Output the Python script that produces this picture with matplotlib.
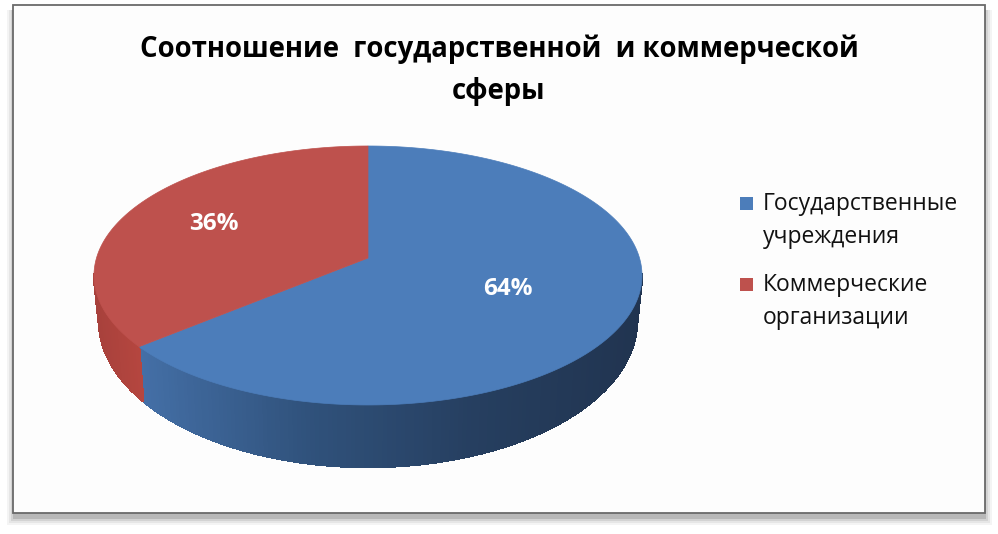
"""Share of state and commercial sector, tilted 3d pie"""

import numpy as np
import matplotlib
matplotlib.use("Agg")
import matplotlib.pyplot as plt
from matplotlib.collections import PolyCollection
from matplotlib.colors import LinearSegmentedColormap
from matplotlib.patches import Rectangle

TITLE = "Соотношение  государственной  и коммерческой\nсферы"
categories = ["Государственные\nучреждения", "Коммерческие\nорганизации"]
shares = [64, 36]

TOP_COLORS = ["#4c7dba", "#be514d"]
WALL_CMAPS = [
    LinearSegmentedColormap.from_list("blue", ["#446fa6", "#30527c", "#263f60", "#213450"]),
    LinearSegmentedColormap.from_list("red", ["#a8413c", "#b5463f"]),
]
LABEL_RADIUS = [0.55, 0.65]

plt.rcParams["font.family"] = ["Open Sans", "DejaVu Sans"]


def project(theta, radius=1.0):
    """Disc point (clockwise angle from the back) to pixel position, with perspective"""
    u = radius * np.sin(theta)
    v = radius * np.cos(theta)
    den = 1 + 0.135 * v
    return 368 + 271.5 * u / den, (258 - 92.3 * v) / den


def lower_rim(x, y):
    """Matching point on the bottom edge of the disc"""
    return 368 + (x - 368) * 0.982, 258 + (y - 258) * 1.13 + 43


def wall(ax, start, end, cmap):
    """Outer side of a slice, one small quad per step so it can carry a gradient"""
    # only the front part of the rim is visible
    start, end = max(start, np.radians(97)), min(end, np.radians(263))
    if end <= start:
        return
    angles = np.linspace(start, end, 160)
    x, y = project(angles)
    xb, yb = lower_rim(x, y)
    quads = []
    for i in range(len(angles) - 1):
        quads.append([(x[i], y[i]), (x[i + 1], y[i + 1]), (xb[i + 1], yb[i + 1]), (xb[i], yb[i])])
    pos = (x[:-1] - x.min()) / max(x.max() - x.min(), 1)
    # left side is lit, right side is in the shade
    colors = cmap(pos)
    ax.add_collection(PolyCollection(quads, facecolors=colors, edgecolors=colors,
                                     linewidths=1.0, antialiaseds=False))


fig = plt.figure(figsize=(9.98, 5.34), dpi=100)
ax = fig.add_axes([0, 0, 1, 1])
ax.set_xlim(0, 998)
ax.set_ylim(534, 0)
ax.axis("off")

# chart frame with soft shadow
for grow, alpha in zip([7, 5, 3, 1], [0.05, 0.07, 0.1, 0.16]):
    ax.add_patch(Rectangle((14 - grow, 10), 971 + 2 * grow, 503 + grow + 5,
                           facecolor="#303030", alpha=alpha, edgecolor="none"))
ax.add_patch(Rectangle((13, 5), 972, 508, facecolor="#fdfdfd", edgecolor="#6a6a6a", linewidth=1.3))

edges = np.radians(np.cumsum([0] + shares) * 3.6)

for i in range(len(shares)):
    wall(ax, edges[i], edges[i + 1], WALL_CMAPS[i])

for i in range(len(shares)):
    angles = np.linspace(edges[i], edges[i + 1], 240)
    x, y = project(angles)
    cx, cy = project(0.0, 0.0)
    ax.fill(np.r_[cx, x], np.r_[cy, y], color=TOP_COLORS[i], linewidth=0.5)
    mid = (edges[i] + edges[i + 1]) / 2
    lx, ly = project(mid, LABEL_RADIUS[i])
    ax.text(lx, ly, f"{shares[i]}%", color="white", fontsize=17.5, fontweight="bold",
            ha="center", va="center")

ax.text(499, 70, TITLE, ha="center", va="center", fontsize=19.85, fontweight="bold",
        color="black", linespacing=1.58)

# legend is placed by hand, the squares sit on the first line of two
for i, label_y in enumerate([192, 273]):
    ax.add_patch(Rectangle((740, label_y + 5), 13, 13, facecolor=TOP_COLORS[i], edgecolor="none"))
    ax.text(763, label_y, categories[i], fontsize=16.5, color="#111111", ha="left", va="top",
            linespacing=1.5)

fig.savefig("out.png", dpi=100)
